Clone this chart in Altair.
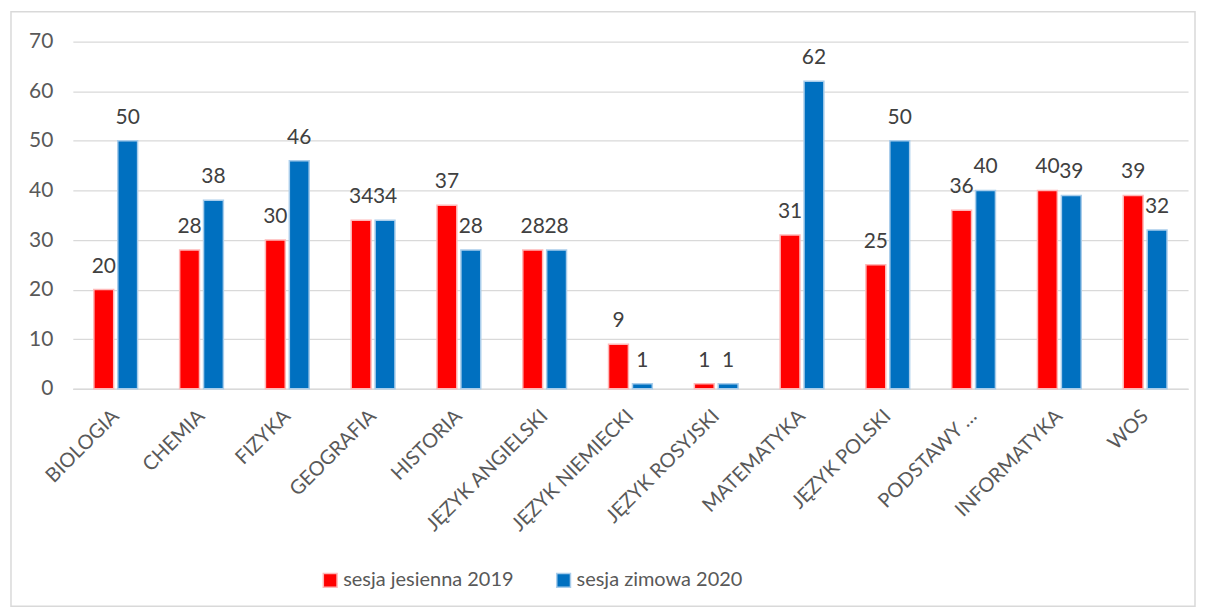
import altair as alt
import pandas as pd

categories = ["BIOLOGIA", "CHEMIA", "FIZYKA", "GEOGRAFIA", "HISTORIA",
              "JĘZYK ANGIELSKI", "JĘZYK NIEMIECKI", "JĘZYK ROSYJSKI",
              "MATEMATYKA", "JĘZYK POLSKI", "PODSTAWY …", "INFORMATYKA", "WOS"]
series = ["sesja jesienna 2019", "sesja zimowa 2020"]
autumn_2019 = [20, 28, 30, 34, 37, 28, 9, 1, 31, 25, 36, 40, 39]
winter_2020 = [50, 38, 46, 34, 28, 28, 1, 1, 62, 50, 40, 39, 32]

rows = []
for c, a, w in zip(categories, autumn_2019, winter_2020):
    rows.append({"przedmiot": c, "sesja": series[0], "wartosc": a})
    rows.append({"przedmiot": c, "sesja": series[1], "wartosc": w})
df = pd.DataFrame(rows)

FONT = "Lato"
GRAY = "#595959"

x_enc = alt.X("przedmiot:N", sort=categories, title=None,
              scale=alt.Scale(paddingInner=0.49, paddingOuter=0.245),
              axis=alt.Axis(labelAngle=-45, labelAlign="right", labelBaseline="middle",
                            labelFontSize=20, labelColor=GRAY, labelFont=FONT,
                            labelPadding=24, ticks=False, domainColor="#D9D9D9",
                            domainWidth=1.5, labelLimit=300))
xo_enc = alt.XOffset("sesja:N", sort=series, scale=alt.Scale(paddingInner=0.17))
y_enc = alt.Y("wartosc:Q", title=None,
              scale=alt.Scale(domain=[0, 70], nice=False),
              axis=alt.Axis(values=list(range(0, 71, 10)), ticks=False, domain=False,
                            gridColor="#D9D9D9", gridWidth=1.2, labelFontSize=21,
                            labelColor=GRAY, labelFont=FONT, labelPadding=20))

bars = alt.Chart(df).mark_bar(strokeWidth=1.5).encode(
    x=x_enc, xOffset=xo_enc, y=y_enc,
    color=alt.Color("sesja:N", sort=series,
                    scale=alt.Scale(domain=series, range=["#FF0000", "#0070C0"]),
                    legend=alt.Legend(title=None, orient="none", direction="horizontal",
                                      legendX=248, legendY=530, symbolType="square",
                                      symbolSize=190, labelFontSize=20, labelColor=GRAY,
                                      labelFont=FONT, columnPadding=40, labelOffset=3,
                                      labelLimit=400, symbolStrokeWidth=1.5)),
    stroke=alt.Stroke("sesja:N", sort=series,
                      scale=alt.Scale(domain=series, range=["#FFB8B8", "#A9CDEB"]),
                      legend=None),
)

labels = alt.Chart(df).mark_text(baseline="bottom", dy=-13, fontSize=21, font=FONT,
                                 color="#404040").encode(
    x=alt.X("przedmiot:N", sort=categories), xOffset=alt.XOffset("sesja:N", sort=series),
    y="wartosc:Q", text="wartosc:Q")

border = alt.Chart(alt.Data(values=[{}])).mark_rect(
    fill="transparent", stroke="#D9D9D9", strokeWidth=1.5).encode(
    x=alt.value(-62), x2=alt.value(1125), y=alt.value(-30), y2=alt.value(566))

chart = alt.layer(border, bars, labels).properties(
    width=1118, height=348,
    padding={"left": 2, "top": 2, "right": 2, "bottom": 2},
).configure_view(stroke=None)

chart.save("out.html", embed_options={"renderer": "svg", "actions": False})
